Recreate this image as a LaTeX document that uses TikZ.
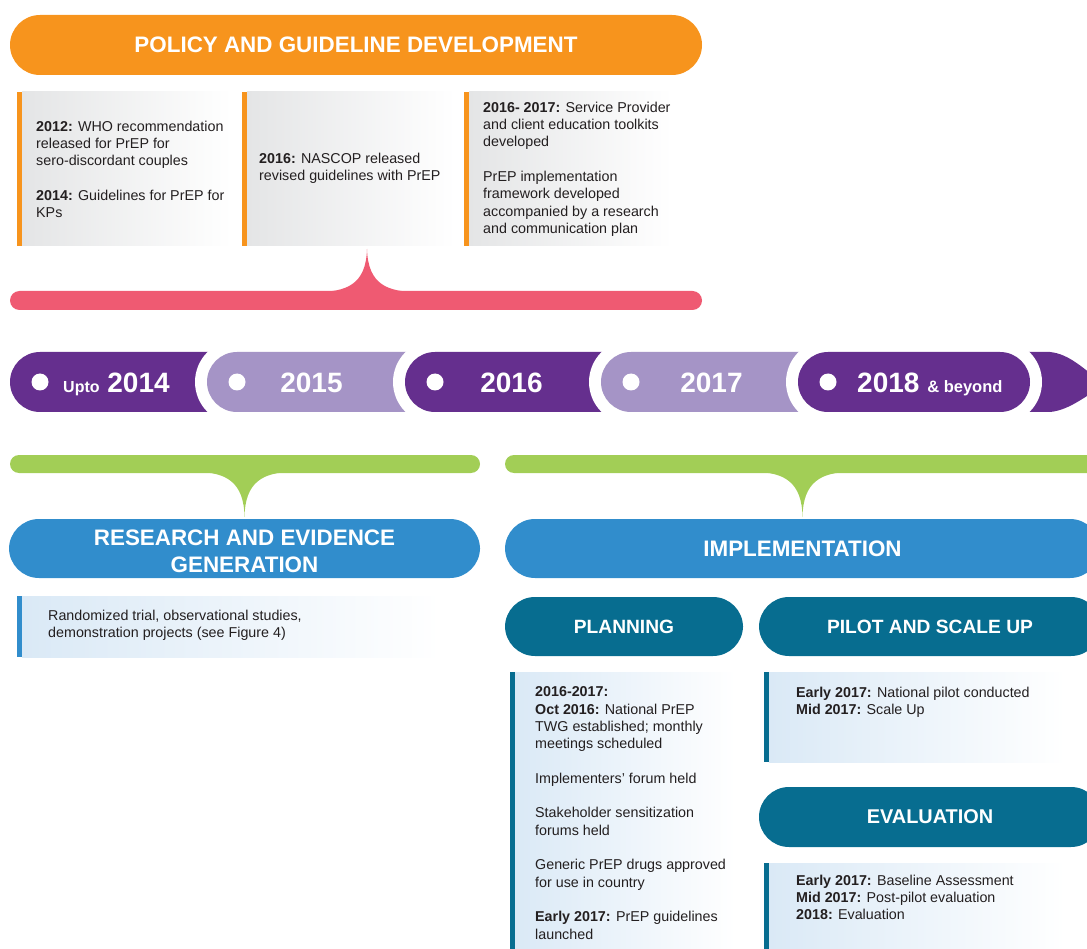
\documentclass[tikz,border=0pt]{standalone}
\usepackage{fontspec}
\setmainfont{Liberation Sans}
\definecolor{orangeC}{HTML}{F7941D}
\definecolor{pinkC}{HTML}{EF5A72}
\definecolor{purpleD}{HTML}{652F8E}
\definecolor{purpleL}{HTML}{A594C6}
\definecolor{greenC}{HTML}{A2CE56}
\definecolor{blueC}{HTML}{318DCC}
\definecolor{tealC}{HTML}{076D90}
\definecolor{greyC}{HTML}{E4E5E6}
\definecolor{lblueC}{HTML}{DAE9F6}
\definecolor{txt}{HTML}{231F20}
\begin{document}
\begin{tikzpicture}[x=1pt,y=-1pt,
  pill/.style={rectangle, rounded corners=30pt, inner sep=0pt, minimum height=60pt, text=white, align=center},
  bigtitle/.style={font=\bfseries\fontsize{22.4}{27}\selectfont},
  subtitle/.style={font=\bfseries\fontsize{19.2}{23}\selectfont},
  body/.style={anchor=north west, inner sep=0pt, align=left, text=txt, font=\fontsize{14.3}{17.3}\selectfont},
  yeartxt/.style={inner sep=0pt, text=white, font=\bfseries\fontsize{28}{28}\selectfont},
  dot/.style={circle, fill=white, minimum size=17pt, inner sep=0pt}
]
\path[use as bounding box] (0,0) rectangle (1087,949);
\clip (0,0) rectangle (1087,949);

% ---------- Policy header ----------
\node[pill, bigtitle, fill=orangeC, minimum width=692pt] (policy) at (356,45) {POLICY AND GUIDELINE DEVELOPMENT};

% grey boxes
\shade[left color=greyC, right color=white] (22,92) rectangle (232,246);
\fill[orangeC] (17,92) rectangle (22,246);
\shade[left color=greyC, right color=white] (247,92) rectangle (455,246);
\fill[orangeC] (242,92) rectangle (247,246);
\shade[left color=greyC, right color=white] (469,92) rectangle (672,246);
\fill[orangeC] (464,92) rectangle (469,246);

\node[body] (p1) at (36,120.7) {\textbf{2012:} WHO recommendation\\released for PrEP for\\sero-discordant couples\\[17.3pt]\textbf{2014:} Guidelines for PrEP for\\KPs};
\node[body] (p2) at (259,152.7) {\textbf{2016:} NASCOP released\\revised guidelines with PrEP};
\node[body] (p3) at (483,101.7) {\textbf{2016- 2017:} Service Provider\\and client education toolkits\\developed\\[17.3pt]PrEP implementation\\framework developed\\accompanied by a research\\and communication plan};

% pink bar with bump
\fill[pinkC, rounded corners=9.5pt] (10,291) rectangle (702,310);
\fill[pinkC] (316,292) .. controls (346,292) and (366,285) .. (367,249) .. controls (368,285) and (388,292) .. (418,292) -- cycle;

% ---------- Timeline ----------
\fill[purpleD, rounded corners=30pt] (10,352) rectangle (267,412);
\fill[white, rounded corners=42pt] (195,340) rectangle (477,424);
\fill[purpleL, rounded corners=30pt] (207,352) rectangle (465,412);
\fill[white, rounded corners=42pt] (393,340) rectangle (673,424);
\fill[purpleD, rounded corners=30pt] (405,352) rectangle (661,412);
\fill[white, rounded corners=42pt] (589,340) rectangle (870,424);
\fill[purpleL, rounded corners=30pt] (601,352) rectangle (858,412);
\fill[purpleD] (990,352) -- (1050,352) .. controls (1070,354) and (1085,370) .. (1105,385) .. controls (1085,396) and (1070,410) .. (1050,412) -- (990,412) -- cycle;
\fill[white, rounded corners=42pt] (786,340) rectangle (1042,424);
\fill[purpleD, rounded corners=30pt] (798,352) rectangle (1030,412);

\node[dot] (d1) at (40,382) {};
\node[dot] (d2) at (237,382) {};
\node[dot] (d3) at (435,382) {};
\node[dot] (d4) at (631,382) {};
\node[dot] (d5) at (828,382) {};

\node[yeartxt, anchor=base west] (y1) at (63,392) {{\fontsize{16}{16}\selectfont Upto}\ 2014};
\node[yeartxt, anchor=base] (y2) at (311.5,392) {2015};
\node[yeartxt, anchor=base] (y3) at (511.5,392) {2016};
\node[yeartxt, anchor=base] (y4) at (711.5,392) {2017};
\node[yeartxt, anchor=base west] (y5) at (857,392) {2018\ {\fontsize{16.5}{16.5}\selectfont \& beyond}};

% ---------- Green bars ----------
\fill[greenC, rounded corners=9pt] (10,455) rectangle (480,473);
\fill[greenC] (196,472) .. controls (226,472) and (244,482) .. (244.5,517) .. controls (245,482) and (263,472) .. (293,472) -- cycle;
\fill[greenC, rounded corners=9pt] (505,455) rectangle (1120,473);
\fill[greenC] (754,472) .. controls (784,472) and (802,482) .. (802.5,517) .. controls (803,482) and (821,472) .. (851,472) -- cycle;

% ---------- Research ----------
\node[pill, bigtitle, fill=blueC, minimum width=471pt, minimum height=59pt] (research) at (244.5,548.5) {};
\node[text=white, bigtitle, align=center, inner sep=0pt] (researchT) at (244.5,551.5) {RESEARCH AND EVIDENCE\\GENERATION};
\shade[left color=lblueC, right color=white] (22,596) rectangle (440,657);
\fill[blueC] (17,596) rectangle (22,657);
\node[body] (r1) at (48,609.7) {Randomized trial, observational studies,\\demonstration projects (see Figure 4)};

% ---------- Implementation ----------
\node[pill, bigtitle, fill=blueC, minimum width=595pt, minimum height=59pt] (impl) at (802.5,548.5) {IMPLEMENTATION};
\node[pill, subtitle, fill=tealC, minimum width=238pt, minimum height=59pt] (plan) at (624,626.5) {PLANNING};
\node[pill, subtitle, fill=tealC, minimum width=342pt, minimum height=59pt] (pilot) at (930,626.5) {PILOT AND SCALE UP};
\node[pill, font=\bfseries\fontsize{19.9}{23}\selectfont, fill=tealC, minimum width=342pt, minimum height=60pt] (eval) at (930,817) {EVALUATION};

\shade[left color=lblueC, right color=white] (515,672) rectangle (735,960);
\fill[tealC] (510,672) rectangle (515,960);
\shade[left color=lblueC, right color=white] (769,672) rectangle (1065,762);
\fill[tealC] (764,672) rectangle (769,762);
\shade[left color=lblueC, right color=white] (769,863) rectangle (1065,960);
\fill[tealC] (764,863) rectangle (769,960);

\node[body] (pl) at (535,686.7) {\textbf{2016-2017:}\\\textbf{Oct 2016:} National PrEP\\TWG established; monthly\\meetings scheduled\\[17.3pt]Implementers’ forum held\\[17.3pt]Stakeholder sensitization\\forums held\\[17.3pt]Generic PrEP drugs approved\\for use in country\\[17.3pt]\textbf{Early 2017:} PrEP guidelines\\launched};
\node[body] (pi) at (796,686.7) {\textbf{Early 2017:} National pilot conducted\\\textbf{Mid 2017:} Scale Up};
\node[body] (ev) at (796,874.7) {\textbf{Early 2017:} Baseline Assessment\\\textbf{Mid 2017:} Post-pilot evaluation\\\textbf{2018:} Evaluation};
\end{tikzpicture}
\end{document}
